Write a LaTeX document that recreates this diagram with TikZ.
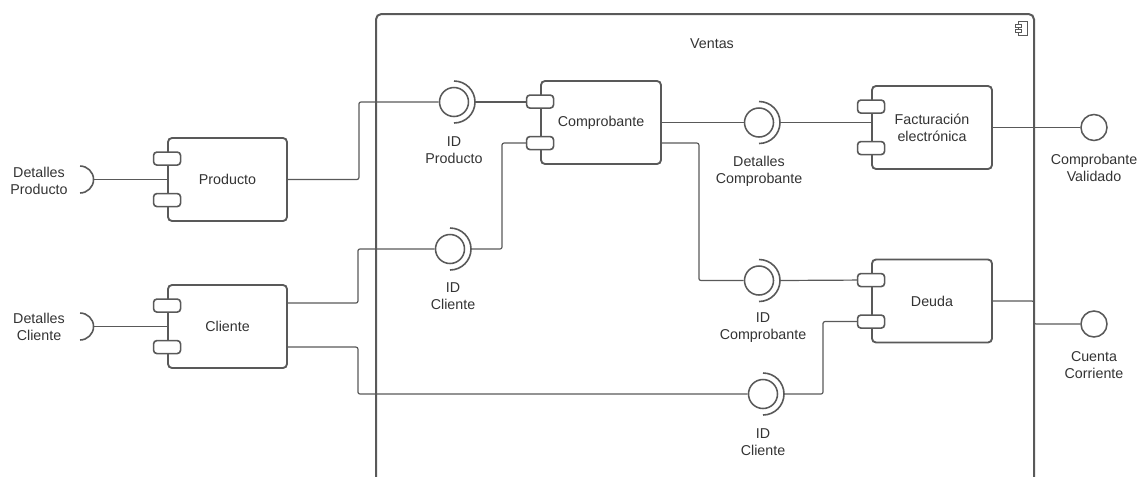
\documentclass[tikz,border=0pt]{standalone}
\usepackage{fontspec}
\setmainfont{Liberation Sans}
\usetikzlibrary{calc}
\definecolor{ln}{HTML}{595959}
\definecolor{tx}{HTML}{333333}
\newcommand\lblfont{\fontsize{10.7}{12.8}\selectfont}
\begin{document}
\begin{tikzpicture}[x=0.75pt,y=-0.75pt,
  comp/.style={draw=ln, line width=1.4pt, rounded corners=3pt, fill=white,
    minimum width=89.25pt, minimum height=62.25pt, align=center, text=tx, font=\lblfont},
  port/.style={draw=ln, line width=1.2pt, rounded corners=2.5pt, fill=white,
    minimum width=20.25pt, minimum height=9.75pt, inner sep=0pt},
  ball/.style={circle, draw=ln, line width=1.15pt, minimum size=21.75pt, inner sep=0pt, fill=white},
  smallball/.style={ball, minimum size=19.5pt},
  conn/.style={draw=ln, line width=0.9pt, rounded corners=1.5pt},
  sock/.style={draw=ln, line width=1.2pt},
  lbl/.style={text=tx, align=center, font=\lblfont},
  frame/.style={draw=ln, line width=1.5pt, rounded corners=4pt},
  icon/.style={draw=ln, line width=0.5pt, fill=white}]
\useasboundingbox (0,0) rectangle (1140,476);
\clip (0,0) rectangle (1140,476);

% Ventas frame
\draw[frame] (376,520) -- (376,14) -- (1034,14) -- (1034,520);
\node[lbl] (ventas) at (712,44) {Ventas};
\draw[icon] (1018,21) rectangle (1027,35);
\draw[icon] (1015,24) rectangle (1021,27);
\draw[icon] (1015,29) rectangle (1021,32);

% components
\node[comp] (prod) at (227.5,179.5) {Producto};
\node[comp] (cli)  at (227.5,326.5) {Cliente};
\node[comp, minimum width=90pt] (comp) at (601,122.5) {Comprobante};
\node[comp, minimum width=90pt] (fact) at (932,127.5) {Facturación\\electrónica};
\node[comp, minimum width=90pt] (deuda) at (932,301) {Deuda};

\foreach \c in {prod,cli,comp,fact,deuda}{
  \node[port] (\c P1) at ($(\c.north west)+(0,21.5)$) {};
  \node[port] (\c P2) at ($(\c.north west)+(0,63)$) {};
}

% connectors
\coordinate (dp) at ($(prod.west)+(-87,0)$);
\coordinate (dc) at ($(cli.west)+(-87,0)$);
\coordinate (dpE) at ([xshift=10.1pt]dp);
\coordinate (dcE) at ([xshift=10.1pt]dc);

% balls
\node[ball] (bIDP)  at (454,102) {};
\node[ball] (bIDC1) at (450,249) {};
\node[ball] (bDC)   at (759,122.5) {};
\node[ball] (bIDCo) at (759,280.5) {};
\node[ball] (bIDC2) at (763,394) {};
\node[smallball] (bCV) at (1094,127.5) {};
\node[smallball] (bCC) at (1094,324) {};

% sockets around balls
\foreach \b in {bIDP,bIDC1,bDC,bIDCo,bIDC2}{
  \draw[sock] ([yshift=15.75pt]\b.center) arc[start angle=90,end angle=-90,radius=15.75pt];
  \coordinate (s\b) at ([xshift=15.75pt]\b.center);
}

% external required sockets
\draw[sock] ([yshift=10.1pt]dp) arc[start angle=90,end angle=-90,radius=10.1pt];
\draw[sock] ([yshift=10.1pt]dc) arc[start angle=90,end angle=-90,radius=10.1pt];

\draw[conn] (dpE) -- (prod.west);
\draw[conn] (dcE) -- (cli.west);
\draw[conn] (prod.east) -- ++(71,0) |- (bIDP.west);
\draw[conn] (sbIDP) -- (sbIDP -| compP1.west);
\draw[conn] ($(cli.north east)+(0,19)$) -- ++(70,0) |- (bIDC1.west);
\draw[conn] (sbIDC1) -- ++(31,0) |- (compP2.west);
\draw[conn] (cli.east |- cliP2) -- ++(70,0) |- (bIDC2.west);
\draw[conn] (sbIDC2) -- ++(39,0) |- (deudaP2.west);
\draw[conn] (comp.east) -- (bDC.west);
\draw[conn] (sbDC) -- (sbDC -| fact.west);
\draw[conn] (comp.east |- compP2) -- ++(37,0) |- (bIDCo.west);
\draw[conn] (sbIDCo) -- (deudaP1.west);
\draw[conn] (fact.east) -- (bCV.west);
\draw[conn] (deuda.east) -- (1034,301) |- (bCC.west);

% labels
\node[lbl] (lDP)  at (39,181) {Detalles\\Producto};
\node[lbl] (lDC)  at (39,327) {Detalles\\Cliente};
\node[lbl] (lIDP) at (454,150) {ID\\Producto};
\node[lbl] (lIDC1) at (453,296) {ID\\Cliente};
\node[lbl] (lDCo) at (759,171.5) {Detalles\\Comprobante};
\node[lbl] (lIDCo) at (763,328) {ID\\Comprobante};
\node[lbl] (lIDC2) at (763,442) {ID\\Cliente};
\node[lbl] (lCV) at (1094,168) {Comprobante\\Validado};
\node[lbl] (lCC) at (1094,365) {Cuenta\\Corriente};
\end{tikzpicture}
\end{document}
